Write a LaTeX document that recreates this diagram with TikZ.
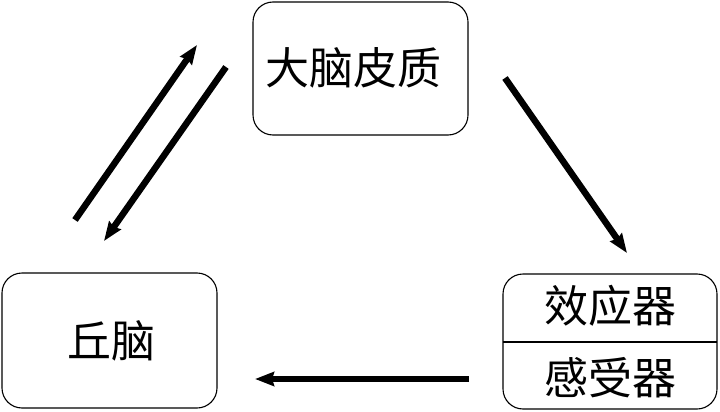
\documentclass[tikz,border=0pt]{standalone}
\usepackage{fontspec}
\newfontfamily\cjk{Noto Sans CJK SC}
\usetikzlibrary{arrows.meta}
\begin{document}
\begin{tikzpicture}[x=1pt,y=-1pt,
  box/.style={draw,line width=1.1pt,rounded corners=20pt},
  lbl/.style={font=\cjk\fontsize{44}{48}\selectfont,inner sep=0pt},
  arr/.style={line width=6.5pt,-{Stealth[length=19pt,width=14pt,inset=2pt]}}]
\useasboundingbox (0,0) rectangle (720,412);
\draw[box] (253,2) rectangle (468,135);
\node[lbl] (ctx) at (353,68) {大脑皮质};
\draw[box] (2,273) rectangle (217,408);
\node[lbl] (thal) at (111,341) {丘脑};
\draw[box] (503,274) rectangle (717,409);
\draw[line width=1.1pt] (503,342) -- (717,342);
\node[lbl] (eff) at (610,306) {效应器};
\node[lbl] (rec) at (610,378) {感受器};
\coordinate (u1) at (75,220); \coordinate (u2) at (197,45);
\coordinate (d1) at (226,67); \coordinate (d2) at (104,241);
\coordinate (r1) at (505,78); \coordinate (r2) at (627,253);
\coordinate (b1) at (469,379); \coordinate (b2) at (255,379);
\draw[arr] (u1) -- (u2);
\draw[arr] (d1) -- (d2);
\draw[arr] (r1) -- (r2);
\draw[arr] (b1) -- (b2);
\end{tikzpicture}
\end{document}
